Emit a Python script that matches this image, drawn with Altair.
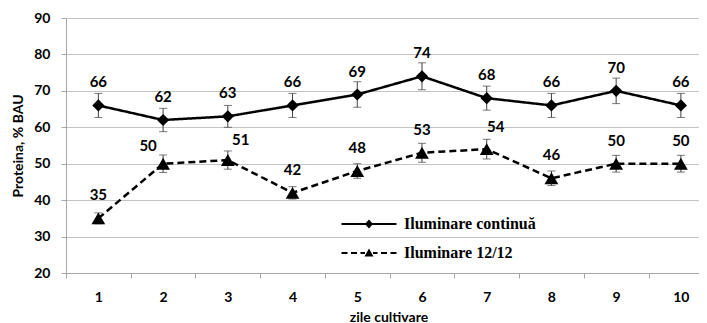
import altair as alt
import pandas as pd

days = [1, 2, 3, 4, 5, 6, 7, 8, 9, 10]
series_names = ["Iluminare continuă", "Iluminare 12/12"]
cont_vals = [66, 62, 63, 66, 69, 74, 68, 66, 70, 66]
cont_err = [3.3, 3.2, 3.0, 3.3, 3.5, 3.7, 3.3, 3.3, 3.5, 3.3]
p12_vals = [35, 50, 51, 42, 48, 53, 54, 46, 50, 50]
p12_err = [1.5, 2.4, 2.5, 1.7, 2.0, 2.6, 2.7, 2.0, 2.3, 2.3]
y_ticks = [20, 30, 40, 50, 60, 70, 80, 90]

rows = []
for s, vals, errs in [(series_names[0], cont_vals, cont_err),
                      (series_names[1], p12_vals, p12_err)]:
    for d, v, e in zip(days, vals, errs):
        rows.append({"day": d, "series": s, "value": v, "lo": v - e, "hi": v + e})
df = pd.DataFrame(rows)

LABEL_FONT = "Lato"
PLOT_W = 633
X_DOMAIN = [0.5, 10.28]
HALF_BAND = PLOT_W / (X_DOMAIN[1] - X_DOMAIN[0]) / 2

x_axis = alt.Axis(title="zile cultivare", values=days, grid=False,
                  tickOffset=-HALF_BAND, labelOffset=HALF_BAND,
                  domainColor="#a6a6a6", tickColor="#a6a6a6", tickSize=5,
                  labelFont=LABEL_FONT, labelFontWeight="bold", labelFontSize=14,
                  labelColor="black", labelPadding=12, labelFlush=False, format="d",
                  titleFont=LABEL_FONT, titleFontWeight="bold", titleFontSize=14,
                  titleColor="black", titlePadding=6, titleX=322.5)
x_scale = alt.Scale(domain=X_DOMAIN, nice=False, zero=False)
y_axis = alt.Axis(title="Proteina, % BAU", values=y_ticks, grid=True, gridColor="#c4c4c4",
                  domainColor="#a6a6a6", tickColor="#a6a6a6", tickSize=5,
                  labelFont=LABEL_FONT, labelFontWeight="bold", labelFontSize=14,
                  labelColor="black", labelPadding=11, labelOverlap=False,
                  titleFont=LABEL_FONT, titleFontWeight="bold", titleFontSize=14,
                  titleColor="black", titlePadding=8)
y_scale = alt.Scale(domain=[20, 90], nice=False, zero=False)


def X():
    return alt.X("day:Q", scale=x_scale, axis=x_axis)


def Y(field):
    return alt.Y(field, scale=y_scale, axis=y_axis)


base = alt.Chart(df)

lines = base.mark_line(color="black", strokeWidth=2.5).encode(
    x=X(), y=Y("value:Q"),
    strokeDash=alt.StrokeDash("series:N", scale=alt.Scale(domain=series_names, range=[[1, 0], [7, 4]]),
                              legend=None),
    detail="series:N",
)

err_rule = base.mark_rule(color="#404040", strokeWidth=1).encode(
    x=X(), y=Y("lo:Q"), y2="hi:Q")
err_top = base.mark_tick(color="#404040", thickness=1, size=8, orient="horizontal").encode(
    x=X(), y=Y("hi:Q"))
err_bot = base.mark_tick(color="#404040", thickness=1, size=8, orient="horizontal").encode(
    x=X(), y=Y("lo:Q"))

points = base.mark_point(filled=True, color="black", opacity=1).encode(
    x=X(), y=Y("value:Q"),
    shape=alt.Shape("series:N", scale=alt.Scale(domain=series_names, range=["diamond", "triangle-up"]),
                    legend=None),
    size=alt.Size("series:N", scale=alt.Scale(domain=series_names, range=[150, 190]), legend=None),
)

# legend symbols (line + marker) drawn as filled custom paths
leg_paths = [
    "M-5.5,-0.2L5.5,-0.2L5.5,0.2L-5.5,0.2Z"
    "M0,-0.9L0.8,0L0,0.9L-0.8,0Z",
    "M-5.5,-0.2L-4.3,-0.2L-4.3,0.2L-5.5,0.2Z"
    "M-3.6,-0.2L-2.4,-0.2L-2.4,0.2L-3.6,0.2Z"
    "M-1.7,-0.2L-0.8,-0.2L-0.8,0.2L-1.7,0.2Z"
    "M0.8,-0.2L1.7,-0.2L1.7,0.2L0.8,0.2Z"
    "M2.4,-0.2L3.6,-0.2L3.6,0.2L2.4,0.2Z"
    "M4.3,-0.2L5.5,-0.2L5.5,0.2L4.3,0.2Z"
    "M0,-0.9L0.9,0.7L-0.9,0.7Z",
]
legend_layer = base.transform_filter("datum.value < 0").mark_point(
    filled=True, color="black", opacity=1).encode(
    x=X(), y=Y("value:Q"),
    shape=alt.Shape("series:N", scale=alt.Scale(domain=series_names, range=leg_paths),
                    legend=alt.Legend(orient="none", legendX=295, legendY=198, title=None,
                                      direction="vertical", symbolSize=100, symbolStrokeWidth=0,
                                      symbolFillColor="black",
                                      labelFont="Liberation Serif", labelFontSize=16,
                                      labelFontWeight="bold", labelColor="black",
                                      labelOffset=27, rowPadding=13, padding=0, labelLimit=0)),
)

txt_kw = dict(font=LABEL_FONT, fontWeight="bold", fontSize=15, color="black")
labels_main = base.transform_filter(
    "!(datum.series == 'Iluminare 12/12' && (datum.day == 2 || datum.day == 3 || datum.day == 7))"
).mark_text(dy=-23, **txt_kw).encode(x=X(), y=Y("value:Q"), text="value:Q")
lab_d2 = base.transform_filter("datum.series == 'Iluminare 12/12' && datum.day == 2").mark_text(
    dx=-15, dy=-18, **txt_kw).encode(x=X(), y=Y("value:Q"), text="value:Q")
lab_d3 = base.transform_filter("datum.series == 'Iluminare 12/12' && datum.day == 3").mark_text(
    dx=13, dy=-20, **txt_kw).encode(x=X(), y=Y("value:Q"), text="value:Q")
lab_d7 = base.transform_filter("datum.series == 'Iluminare 12/12' && datum.day == 7").mark_text(
    dx=9, dy=-22, **txt_kw).encode(x=X(), y=Y("value:Q"), text="value:Q")

chart = alt.layer(
    lines, err_rule, err_top, err_bot, points, legend_layer, labels_main, lab_d2, lab_d3, lab_d7
).resolve_scale(shape="independent", size="independent").properties(
    width=PLOT_W, height=255,
    autosize=alt.AutoSizeParams(type="none"),
    padding={"left": 58, "top": 10, "right": 0, "bottom": 56},
).configure_view(stroke=None).configure_legend(labelFont="Liberation Serif")

chart.save("out.html", embed_options={"renderer": "svg", "actions": False})
